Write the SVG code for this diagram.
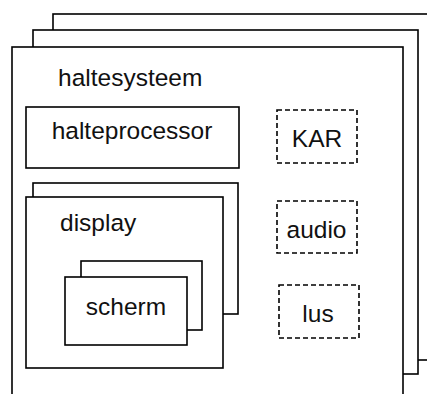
<svg xmlns="http://www.w3.org/2000/svg" width="427" height="394" viewBox="0 0 427 394">
<style>
.b{fill:#fff;stroke:#000;stroke-width:1.6}
.d{fill:#fff;stroke:#000;stroke-width:1.6;stroke-dasharray:5,3}
text{font-family:"Liberation Sans",Arial,sans-serif;font-size:24.5px;fill:#111}
.c{text-anchor:middle}
</style>
<g id="haltesysteem">
<rect class="b" x="53" y="14" width="400" height="346"/>
<rect class="b" x="33" y="30" width="385" height="344"/>
<rect class="b" x="12" y="47" width="391" height="360"/>
<text x="58" y="86">haltesysteem</text>
</g>
<g id="halteprocessor">
<rect class="b" x="26" y="107" width="213" height="61"/>
<text class="c" x="132" y="139">halteprocessor</text>
</g>
<g id="display">
<rect class="b" x="33" y="183" width="205" height="131"/>
<rect class="b" x="26" y="197" width="197" height="171"/>
<text x="60" y="231">display</text>
</g>
<g id="scherm">
<rect class="b" x="81" y="261" width="121" height="69"/>
<rect class="b" x="65" y="277" width="122" height="68"/>
<text class="c" x="126" y="315">scherm</text>
</g>
<g id="KAR">
<rect class="d" x="277" y="110" width="80" height="53"/>
<text class="c" x="317" y="147">KAR</text>
</g>
<g id="audio">
<rect class="d" x="277" y="201" width="80" height="52"/>
<text class="c" x="316.5" y="238">audio</text>
</g>
<g id="lus">
<rect class="d" x="279" y="285" width="80" height="53"/>
<text class="c" x="318" y="322">lus</text>
</g>
<g id="connectors"/>
</svg>
